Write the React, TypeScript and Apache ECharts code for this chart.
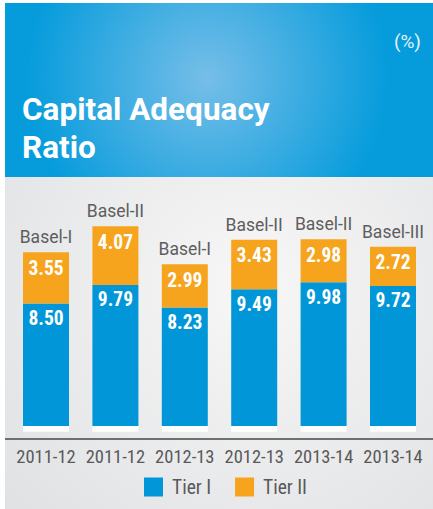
import React, { useEffect, useRef } from "react";
import * as echarts from "echarts";

const years = ["2011-12", "2011-12", "2012-13", "2012-13", "2013-14", "2013-14"];
const regimes = ["Basel-I", "Basel-II", "Basel-I", "Basel-II", "Basel-II", "Basel-III"];
const tier1 = [8.5, 9.79, 8.23, 9.49, 9.98, 9.72];
const tier2 = [3.55, 4.07, 2.99, 3.43, 2.98, 2.72];
const BASE_PAD = 0.4; // white plinth under each bar (decorative)

const BLUE = "#0096d8";
const ORANGE = "#f6a41d";
const GREY_TEXT = "#595959";
const NARROW = "'Liberation Sans Narrow', 'Roboto Condensed', Roboto, sans-serif";

export default function App() {
  const ref = useRef<HTMLDivElement>(null);
  useEffect(() => {
    document.body.style.margin = "0";
    const chart = echarts.init(ref.current!, null, { renderer: "svg" });
    const option: any = {
      animation: false,
      graphic: [
        {
          type: "rect",
          z: -10,
          silent: true,
          shape: { x: 5, y: 177, width: 428, height: 332 },
          style: {
            fill: new echarts.graphic.RadialGradient(
              250, 290, 330,
              [
                { offset: 0, color: "#f7f7f7" },
                { offset: 1, color: "#e0e1e3" },
              ],
              true
            ),
          },
        },
        {
          type: "rect",
          z: -10,
          silent: true,
          shape: { x: 5, y: 3, width: 428, height: 174 },
          style: {
            fill: new echarts.graphic.RadialGradient(
              207, 78, 180,
              [
                { offset: 0, color: "#76bee8" },
                { offset: 1, color: "#069cdc" },
              ],
              true
            ),
          },
        },
        {
          type: "text",
          silent: true,
          style: {
            x: 22,
            y: 109,
            text: "Capital Adequacy",
            fill: "#ffffff",
            font: "bold 31.5px Roboto, sans-serif",
            verticalAlign: "middle",
          },
        },
        {
          type: "text",
          silent: true,
          style: {
            x: 22,
            y: 147,
            text: "Ratio",
            fill: "#ffffff",
            font: "bold 31.5px Roboto, sans-serif",
            verticalAlign: "middle",
          },
        },
        {
          type: "text",
          silent: true,
          style: {
            x: 421,
            y: 41,
            text: "(%)",
            fill: "#e4f3fb",
            font: "19px Roboto, sans-serif",
            align: "right",
            verticalAlign: "middle",
          },
        },
        {
          type: "line",
          silent: true,
          z: 5,
          shape: { x1: 5, y1: 439, x2: 433, y2: 439 },
          style: { stroke: "#6e6f71", lineWidth: 2 },
        },
      ],
      legend: {
        data: ["Tier I", "Tier II"],
        left: 144,
        top: 477,
        padding: 0,
        itemWidth: 19,
        itemHeight: 19,
        itemGap: 24,
        icon: "rect",
        textStyle: {
          color: GREY_TEXT,
          fontSize: 19.5,
          fontFamily: NARROW,
          padding: [0, 0, 0, 4],
        },
      },
      grid: { left: 11.3, right: 5.3, top: 194, bottom: 70 },
      xAxis: {
        type: "category",
        data: years,
        axisLine: { show: true, onZero: false, lineStyle: { color: "#6e6f71", width: 2 } },
        axisTick: { show: false },
        axisLabel: {
          color: GREY_TEXT,
          fontSize: 18.5,
          fontFamily: NARROW,
          margin: 8,
          interval: 0,
        },
      },
      yAxis: {
        type: "value",
        min: -0.5,
        max: 16.5,
        show: false,
        splitLine: { show: false },
      },
      series: [
        {
          name: "base",
          type: "bar",
          stack: "total",
          barWidth: 46,
          silent: true,
          data: years.map(() => BASE_PAD),
          itemStyle: { color: "#ffffff" },
        },
        {
          name: "Tier I",
          type: "bar",
          stack: "total",
          barWidth: 46,
          data: tier1,
          itemStyle: { color: BLUE },
          label: {
            show: true,
            position: "insideTop",
            distance: 5,
            color: "#ffffff",
            fontSize: 19.5,
            fontWeight: "bold",
            fontFamily: NARROW,
            formatter: (p: any) => p.value.toFixed(2),
          },
        },
        {
          name: "Tier II",
          type: "bar",
          stack: "total",
          barWidth: 46,
          data: tier2,
          itemStyle: { color: ORANGE },
          label: {
            show: true,
            position: "insideTop",
            distance: 6,
            color: "#ffffff",
            fontSize: 19.5,
            fontWeight: "bold",
            fontFamily: NARROW,
            formatter: (p: any) => p.value.toFixed(2),
          },
        },
        {
          name: "regime",
          type: "bar",
          stack: "total",
          barWidth: 46,
          silent: true,
          data: years.map(() => 0),
          itemStyle: { color: "transparent" },
          label: {
            show: true,
            position: "top",
            distance: 6,
            color: "#5e5e5e",
            fontSize: 17.5,
            fontFamily: "Roboto, sans-serif",
            formatter: (p: any) => regimes[p.dataIndex],
          },
        },
      ],
    };
    chart.setOption(option);
    return () => chart.dispose();
  }, []);
  return (
    <div
      ref={ref}
      style={{ position: "fixed", left: 0, top: 0, width: 433, height: 509, background: "#ffffff" }}
    />
  );
}
